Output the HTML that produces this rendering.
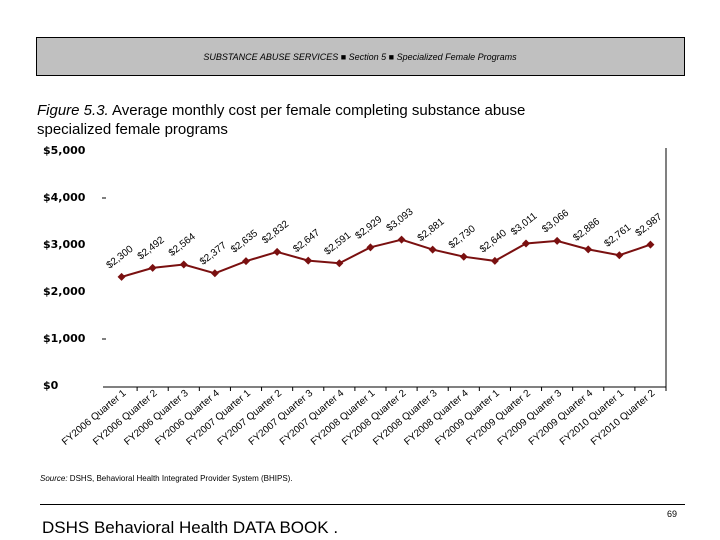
<!DOCTYPE html>
<html><head><meta charset="utf-8"><style>
body{margin:0;background:#fff;}
svg{display:block;font-family:"Liberation Sans",Arial,sans-serif;}
</style></head><body>
<svg width="720" height="540" viewBox="0 0 720 540">
<rect x="36.5" y="37.5" width="648" height="38" fill="#c0c0c0" stroke="#000" stroke-width="1"/>
<text x="360" y="60" font-size="9" text-anchor="middle" font-style="italic">SUBSTANCE ABUSE SERVICES  ■  Section 5  ■  Specialized Female Programs</text>
<text x="37" y="115" font-size="15"><tspan font-style="italic">Figure 5.3.</tspan>  Average monthly cost per female completing substance abuse</text>
<text x="37" y="134" font-size="15">specialized female programs</text>
<g id="yaxis" font-family="'DejaVu Sans',sans-serif" font-weight="bold" font-size="11"></g>
<line x1="666" y1="148" x2="666" y2="387" stroke="#000"/>
<line x1="103" y1="387" x2="666" y2="387" stroke="#000"/>
<g id="xaxis" font-size="10"></g>
<polyline id="line" fill="none" stroke="#7a1010" stroke-width="2"/>
<g id="pts"></g>
<g id="lbls" font-size="10"></g>
<text x="40" y="481" font-size="8"><tspan font-style="italic">Source:</tspan> DSHS, Behavioral Health Integrated Provider System (BHIPS).</text>
<line x1="40" y1="504.5" x2="685" y2="504.5" stroke="#000"/>
<text x="42" y="533" font-size="17">DSHS Behavioral Health DATA BOOK  .</text>
<text x="667" y="517" font-size="9">69</text>
</svg>
<script>
const categories=["FY2006 Quarter 1","FY2006 Quarter 2","FY2006 Quarter 3","FY2006 Quarter 4","FY2007 Quarter 1","FY2007 Quarter 2","FY2007 Quarter 3","FY2007 Quarter 4","FY2008 Quarter 1","FY2008 Quarter 2","FY2008 Quarter 3","FY2008 Quarter 4","FY2009 Quarter 1","FY2009 Quarter 2","FY2009 Quarter 3","FY2009 Quarter 4","FY2010 Quarter 1","FY2010 Quarter 2"];
const values=[2300,2492,2564,2377,2635,2832,2647,2591,2929,3093,2881,2730,2640,3011,3066,2886,2761,2987];
const yTicks=[0,1000,2000,3000,4000,5000];
const yTickLabels=["$0","$1,000","$2,000","$3,000","$4,000","$5,000"];
const NS="http://www.w3.org/2000/svg";
const x0=106,x1=666,y0=385,yTop=150,yMax=5000;
const step=(x1-x0)/categories.length;
const X=i=>x0+step*(i+0.5);
const Y=v=>y0-(v/yMax)*(y0-yTop);
function mk(t,a,p){const e=document.createElementNS(NS,t);for(const k in a)e.setAttribute(k,a[k]);p.appendChild(e);return e;}
const ya=document.getElementById('yaxis');
yTicks.forEach((v,i)=>{
 const t=mk('text',{x:43,y:Y(v)+4},ya);t.textContent=yTickLabels[i];
 
 
 if(v===4000||v===1000){const d=mk('line',{x1:102,x2:106,y1:Y(v)+1,y2:Y(v)+1,stroke:'#000'},ya);
 
 }
});
const xa=document.getElementById('xaxis');
categories.forEach((c,i)=>{
 const tk=mk('line',{x1:x0+step*(i+1),x2:x0+step*(i+1),y1:387,y2:391,stroke:'#000'},xa);
 
 
 const t=mk('text',{x:X(i)+5,y:394,'text-anchor':'end',transform:`rotate(-40 ${X(i)+5} 394)`},xa);
 t.textContent=c;
 
 
});
document.getElementById('line').setAttribute('points',values.map((v,i)=>X(i)+','+Y(v)).join(' '));
const pg=document.getElementById('pts'),lg=document.getElementById('lbls');
values.forEach((v,i)=>{
 const x=X(i),y=Y(v);
 const p=mk('polygon',{points:`${x},${y-4} ${x+4},${y} ${x},${y+4} ${x-4},${y}`,fill:'#7a1010'},pg);
 
 
 const t=mk('text',{x:x-12,y:y-8,transform:`rotate(-38 ${x-12} ${y-8})`},lg);
 t.textContent='$'+v.toLocaleString('en-US');
 
 
});
</script>
</body></html>
